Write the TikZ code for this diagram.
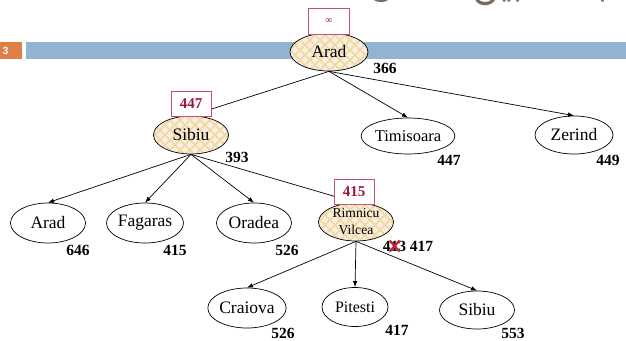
\documentclass[tikz,border=0pt]{standalone}
\usepackage{fontspec}
\setmainfont{Liberation Serif}
\newfontfamily\arabicfont[Script=Arabic]{DejaVu Sans}
\newfontfamily\labelsans{Liberation Sans}
\TeXXeTstate=1
\usetikzlibrary{shapes.geometric, arrows.meta, patterns, backgrounds, calc}

\pgfdeclarepatternformonly{lattice}{\pgfpoint{-1pt}{-1pt}}{\pgfpoint{11pt}{11pt}}{\pgfpoint{10pt}{10pt}}{%
  \pgfsetlinewidth{1.6pt}%
  \pgfpathmoveto{\pgfpoint{0pt}{0pt}}\pgfpathlineto{\pgfpoint{10pt}{10pt}}%
  \pgfpathmoveto{\pgfpoint{0pt}{10pt}}\pgfpathlineto{\pgfpoint{10pt}{0pt}}%
  \pgfusepath{stroke}}

\definecolor{barblue}{HTML}{93B3D2}
\definecolor{barorange}{HTML}{E07F45}
\definecolor{boxred}{HTML}{C4507A}
\definecolor{numred}{HTML}{A0143C}
\definecolor{cream}{HTML}{FAEDE6}
\definecolor{latt}{HTML}{EEDB9C}
\definecolor{crossred}{HTML}{C02838}
\definecolor{arabicgray}{HTML}{7E6A60}

\tikzset{
  city/.style={ellipse, draw=black, line width=0.7pt, minimum width=75pt, minimum height=39pt,
    inner sep=0pt, font=\fontsize{17.5}{18}\selectfont},
  expanded/.style={city, preaction={fill=cream}, pattern=lattice, pattern color=latt},
  fbox/.style={draw=boxred, line width=0.8pt, fill=white, minimum width=40pt, minimum height=25pt,
    inner sep=0pt, text=numred, font=\bfseries\fontsize{15}{15}\selectfont},
  hval/.style={font=\bfseries\fontsize{15.5}{16}\selectfont, inner sep=0pt},
  conn/.style={line width=0.7pt},
  arrowconn/.style={conn, -{Latex[length=6pt,width=4.5pt]}},
}

\begin{document}
\begin{tikzpicture}[x=1pt,y=-1pt]
\useasboundingbox (0,0) rectangle (626,340);

% expanded nodes
\node[expanded, minimum width=78pt, minimum height=38pt] (arad0) at (329,52) {Arad};
\node[expanded, minimum height=38pt] (sib) at (191,135) {Sibiu};
\node[expanded, minimum height=38pt, align=center, font=\fontsize{13.6}{17}\selectfont] (rim) at (356,222) {Rimnicu\\Vilcea};

% plain nodes
\node[city, minimum width=74pt, minimum height=36pt, font=\fontsize{16.5}{17}\selectfont] (tim) at (408,136) {Timisoara};
\node[city, minimum width=78pt, minimum height=38pt] (zer) at (574,135) {Zerind};
\node[city, minimum height=40pt] (arad2) at (48,223) {Arad};
\node[city, minimum width=76pt, minimum height=40pt] (fag) at (145,223) {Fagaras};
\node[city, minimum height=40pt] (ora) at (254,223) {Oradea};
\node[city, minimum height=40pt] (cra) at (247,308) {Craiova};
\node[city, minimum width=66pt, minimum height=39pt, font=\fontsize{16}{16}\selectfont] (pit) at (355,307) {Pitesti};
\node[city, minimum height=38pt] (sib2) at (477,310) {Sibiu};

% f-value boxes
\node[fbox, minimum width=41pt, minimum height=26pt, font=\fontsize{10}{10}\selectfont] (finf) at (329,21) {∞};
\node[fbox] (f447) at (191,103.5) {447};
\node[fbox] (f415) at (354,191.5) {415};

% heuristic values
\node[hval] (h366) at (385,68) {366};
\node[hval] (h393) at (237,157) {393};
\node[hval] (h447) at (449,160) {447};
\node[hval] (h449) at (608,160) {449};
\node[hval] (h646) at (78,250) {646};
\node[hval] (h415) at (175,250) {415};
\node[hval] (h526) at (287,250) {526};
\node[hval] (fr) at (408,246) {413 417};
\node[hval] (h526b) at (283,333) {526};
\node[hval] (h417) at (397,330) {417};
\node[hval] (h553) at (513,333) {553};

\draw[crossred, line width=2.2pt] ($(fr.west)+(7,-5.5)$) -- ($(fr.west)+(17,5.5)$);
\draw[crossred, line width=2.2pt] ($(fr.west)+(7,5.5)$) -- ($(fr.west)+(17,-5.5)$);

\begin{pgfonlayer}{background}
  % slide header
  \begin{scope}
    \clip (0,0) rectangle (626,340);
    \node[anchor=base west, inner sep=0pt, text=arabicgray, font=\arabicfont\fontsize{38}{38}\selectfont] (title) at (368,-3) {\beginR مثال عن البحث بين المدن\endR};
  \end{scope}
  \fill[barorange] (0,42) rectangle (22,59);
  \node[text=white, font=\labelsans\bfseries\fontsize{10.5}{10.5}\selectfont, inner sep=0pt] (pg) at (5.5,50.5) {3};
  \fill[barblue] (26,42) rectangle (626,59);
  % connectors
  \draw[conn] (arad0.south) -- (sib.north);
  \draw[arrowconn] (arad0.south) -- (tim.north);
  \draw[arrowconn] (arad0.south) -- (zer.north);
  \draw[arrowconn] (sib.south) -- (arad2.north);
  \draw[arrowconn] (sib.south) -- (fag.north);
  \draw[arrowconn] (sib.south) -- (ora.north);
  \draw[conn] (sib.south) -- (rim.north);
  \draw[arrowconn] (rim.south) -- (cra.north);
  \draw[arrowconn] (rim.south) -- (pit.north);
  \draw[arrowconn] (rim.south) -- (sib2.north);
\end{pgfonlayer}
\end{tikzpicture}
\end{document}
